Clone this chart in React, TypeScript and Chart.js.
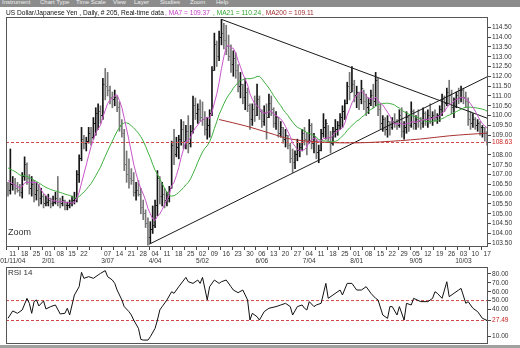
import React, { useEffect, useRef } from "react";
import { Chart, registerables } from "chart.js";

Chart.register(...registerables);

const FONT = '"Liberation Sans", Arial, sans-serif';

// Closes before the first visible bar (estimated from where MA7 / MA21 start)
const seedCloses = [107.9, 107.8, 107.6, 107.9, 108.0, 107.7, 107.5, 107.6, 107.4, 107.6,
  107.8, 107.5, 107.3, 107.6, 107.2, 107.0, 106.9, 106.6, 106.5, 106.5];

// Daily bars, Jan 8 2004 .. Oct 18 2004
const highs = [
  106.6, 108.3,
  106.9, 106.8, 106.6, 106.5, 107.1,
  107.9, 107.6, 107.0, 106.9, 106.7,
  106.6, 106.5, 106.3, 106.0, 105.9,
  106.0, 105.8, 105.9, 106.1, 106.9,
  105.8, 105.9, 105.7, 105.6, 105.7,
  105.9, 106.1, 107.2, 108.0, 109.4,
  109.0, 108.9, 109.4, 109.4, 109.9,
  110.4, 110.6, 110.5, 111.9, 112.4,
  112.2, 111.5, 111.2, 111.3, 111.0,
  110.7, 109.8, 109.3, 108.2, 107.8,
  107.3, 107.1, 106.6, 106.7, 106.3,
  105.7, 105.2, 104.8, 104.6, 105.4,
  105.7, 107.2, 106.9, 106.6, 106.3,
  106.1, 106.4, 108.7, 109.3, 108.9,
  109.0, 109.8, 109.7, 109.5, 110.0,
  109.5, 111.0, 110.9, 110.6, 110.8,
  110.7, 110.2, 109.9, 110.3, 112.5,
  114.2, 113.8, 114.3, 114.9, 114.7,
  114.6, 114.1, 113.6, 113.3, 113.2,
  112.6, 112.2, 111.6, 111.9, 111.4,
  110.6, 110.6, 111.0, 111.6, 111.0,
  110.3, 110.5, 110.6, 111.1, 111.0,
  110.4, 110.2, 109.9, 109.7, 109.4,
  109.3, 109.0, 108.6, 108.3, 108.2,
  108.8, 108.6, 109.3, 109.4, 109.1,
  109.8, 109.6, 109.1, 108.8, 108.5,
  109.3, 110.1, 109.8, 109.5, 109.2,
  109.4, 109.8, 109.7, 110.1, 110.5,
  110.8, 111.7, 112.2, 112.5, 111.8,
  111.5, 111.2, 111.8, 111.3, 111.1,
  110.9, 111.3, 111.6, 112.2, 111.9,
  110.6, 110.0, 109.9, 110.0, 109.7,
  109.9, 110.1, 109.8, 110.3, 110.4,
  109.7, 110.2, 110.0, 110.7, 110.3,
  110.0, 110.3, 109.9, 110.4, 110.2,
  110.3, 110.6, 110.2, 110.3, 110.1,
  110.5, 111.1, 111.0, 111.4, 111.8,
  111.3, 110.9, 111.2, 111.4, 111.5,
  111.4, 111.2, 110.9, 110.2, 110.1,
  109.9, 109.8, 109.7, 109.5, 109.4,
  109.2,
];
const lows = [
  105.9, 106.0,
  106.2, 106.0, 106.1, 105.9, 105.8,
  106.7, 106.5, 106.0, 105.9, 105.6,
  105.7, 105.4, 105.5, 105.3, 105.4,
  105.4, 105.3, 105.4, 105.5, 105.4,
  105.3, 105.4, 105.2, 105.2, 105.3,
  105.4, 105.5, 105.6, 106.6, 107.7,
  108.3, 108.2, 108.6, 108.5, 108.8,
  109.0, 109.3, 109.6, 109.8, 110.8,
  111.0, 110.6, 110.4, 110.5, 110.2,
  109.2, 108.9, 107.2, 106.6, 106.3,
  106.5, 105.9, 105.7, 105.9, 105.0,
  104.7, 104.3, 103.4, 103.5, 104.0,
  104.3, 104.9, 105.5, 105.4, 105.3,
  105.4, 105.6, 106.3, 107.5, 107.9,
  107.8, 108.5, 108.3, 108.3, 108.1,
  108.4, 109.1, 109.8, 109.6, 109.7,
  109.5, 109.0, 108.8, 108.9, 110.0,
  112.3, 112.5, 112.8, 113.6, 113.4,
  113.1, 112.8, 112.2, 112.0, 111.9,
  111.2, 110.9, 110.6, 110.3, 110.2,
  109.3, 109.5, 109.7, 110.0, 109.8,
  109.4, 109.5, 108.8, 109.9, 110.0,
  109.4, 109.3, 108.9, 108.9, 108.6,
  108.4, 108.3, 107.6, 107.1, 107.3,
  107.7, 107.9, 108.2, 108.5, 108.0,
  108.6, 108.3, 108.1, 107.8, 107.6,
  108.2, 108.9, 108.8, 108.7, 108.1,
  108.5, 108.9, 109.0, 109.3, 109.4,
  109.8, 110.6, 110.8, 111.2, 110.7,
  110.4, 110.3, 110.6, 110.3, 110.0,
  110.1, 110.5, 110.4, 110.5, 110.0,
  109.3, 109.2, 109.0, 108.9, 109.0,
  109.3, 109.4, 109.3, 109.4, 108.9,
  108.8, 109.1, 109.2, 109.4, 109.3,
  109.3, 109.4, 109.3, 109.4, 109.5,
  109.4, 109.6, 109.5, 109.7, 109.6,
  109.7, 110.0, 110.2, 110.5, 110.6,
  110.1, 109.9, 110.4, 110.6, 110.7,
  110.6, 110.4, 109.5, 109.3, 109.4,
  109.3, 109.2, 109.0, 108.9, 108.7,
  108.5,
];
const closes = [
  106.2, 106.5,
  106.5, 106.3, 106.2, 106.1, 106.9,
  107.5, 106.8, 106.3, 106.5, 106.0,
  106.2, 105.8, 105.9, 105.5, 105.6,
  105.7, 105.5, 105.6, 105.8, 105.6,
  105.5, 105.7, 105.4, 105.4, 105.5,
  105.7, 105.8, 107.0, 107.8, 108.8,
  108.6, 108.7, 109.1, 108.9, 109.6,
  110.1, 110.2, 110.0, 111.6, 111.5,
  111.3, 110.9, 110.8, 110.9, 110.4,
  109.5, 109.1, 107.5, 107.0, 106.8,
  106.7, 106.1, 106.2, 106.0, 105.3,
  105.0, 104.5, 103.8, 104.2, 104.4,
  105.4, 106.8, 105.9, 106.0, 105.7,
  105.8, 106.3, 108.5, 108.0, 108.4,
  108.8, 109.3, 108.7, 109.2, 108.6,
  109.2, 110.5, 110.1, 110.3, 109.9,
  109.8, 109.3, 109.5, 110.1, 112.3,
  113.6, 113.0, 114.0, 114.2, 113.8,
  113.5, 113.0, 112.6, 112.9, 112.3,
  111.5, 111.6, 110.9, 111.2, 110.5,
  109.8, 110.3, 110.0, 110.8, 110.2,
  109.7, 110.1, 109.9, 110.6, 110.3,
  109.6, 109.9, 109.1, 109.4, 108.8,
  109.0, 108.5, 107.8, 107.6, 108.0,
  108.2, 108.4, 109.1, 108.8, 108.7,
  109.5, 108.6, 108.9, 108.1, 108.2,
  109.1, 109.4, 109.6, 108.9, 108.6,
  109.2, 109.3, 109.5, 109.9, 110.2,
  110.6, 111.5, 111.2, 111.6, 111.0,
  111.2, 110.8, 111.4, 110.7, 110.4,
  110.6, 111.0, 110.7, 111.8, 110.3,
  109.6, 109.8, 109.3, 109.7, 109.4,
  109.7, 109.6, 109.5, 110.0, 109.2,
  109.4, 109.9, 109.5, 110.2, 109.6,
  109.8, 109.7, 109.6, 110.1, 109.8,
  110.0, 109.9, 110.0, 109.9, 110.0,
  110.3, 110.8, 110.6, 111.2, 111.0,
  110.4, 110.8, 111.0, 110.9, 111.3,
  110.9, 110.7, 109.8, 109.6, 109.8,
  109.5, 109.6, 109.4, 109.4, 109.1,
  108.63,
];

const lastPrice = 108.63;

// Weekly axis labels (Sunday dates); the week tick sits on the Monday bar
const dayLabels = ["11", "18", "25", "01", "08", "15", "22", "", "07", "14", "21", "28", "04", "11", "18", "25",
  "02", "09", "16", "23", "30", "06", "13", "20", "27", "04", "11", "18", "25", "01", "08", "15", "22", "29",
  "05", "12", "19", "26", "03", "10", "17"];
const monthLabels = ["01/11/04", "", "", "2/01", "", "", "", "", "3/07", "", "", "", "4/04", "", "", "", "5/02",
  "", "", "", "", "6/06", "", "", "", "7/04", "", "", "", "8/01", "", "", "", "", "9/05", "", "", "", "10/03", "", ""];
const firstMondayBar = 2;
const barsPerWeek = 5;

const priceTicks = [114.5, 114, 113.5, 113, 112.5, 112, 111.5, 111, 110.5, 110, 109.5, 109, 108.63,
  108, 107.5, 107, 106.5, 106, 105.5, 105, 104.5, 104, 103.5];

// MA200 (history not in the visible window)
const ma200Bars = [89, 100, 110, 119, 131, 144, 157, 174, 186, 202];
const ma200Values = [109.8, 109.48, 109.12, 108.81, 108.66, 108.61, 108.66, 108.81, 108.97, 109.11];

// Hand-drawn trendlines [bar, price]
const upperTrend = [[90, 114.9], [202.4, 109.85]];
const lowerTrend = [[59.5, 103.45], [202.4, 112.0]];

// RSI 14
const rsiBars = [0, 2, 4, 6, 8, 9, 10, 11, 12, 13, 15, 16, 18, 20, 22, 24, 25, 26, 28, 30, 31, 32, 34, 36, 38, 39,
  41, 42, 44, 45, 46, 48, 49, 51, 52, 53, 55, 56, 57, 59, 60, 62, 63, 64, 65, 67, 69, 70, 72, 75, 76, 78, 80, 81,
  82, 84, 85, 87, 89, 90, 92, 94, 95, 97, 99, 101, 102, 103, 105, 106, 108, 110, 113, 115, 117, 119, 120, 122,
  124, 125, 126, 127, 129, 130, 132, 134, 135, 137, 140, 141, 143, 145, 147, 149, 151, 153, 155, 156, 158, 160,
  161, 162, 164, 165, 167, 168, 170, 171, 174, 177, 179, 180, 181, 183, 185, 186, 188, 190, 191, 193, 194, 196,
  198, 200, 202];
const rsiValues = [30, 38.3, 35.6, 39.4, 52.5, 46.9, 35.6, 48.8, 50.7, 43.9, 49.6, 40.5, 43.2, 45.0, 34.9, 35.6,
  41.3, 33.7, 56.3, 65.7, 81.9, 75.1, 77.0, 75.1, 78.9, 80.7, 83.8, 77.0, 73.2, 69.4, 61.9, 50.7, 43.2, 37.5,
  33.7, 28.0, 18.6, 6.2, 5.4, 5.4, 9.2, 18.6, 28.0, 39.4, 43.2, 50.7, 60.0, 58.2, 65.7, 76.2, 71.3, 69.4, 73.2,
  69.4, 76.2, 50.7, 65.7, 73.2, 69.4, 71.3, 73.2, 65.7, 61.9, 58.9, 61.9, 50.7, 28.0, 35.6, 31.8, 28.0, 37.5,
  41.3, 43.2, 45.0, 46.9, 43.2, 33.7, 43.2, 45.0, 41.3, 39.4, 48.8, 43.2, 45.0, 46.9, 69.4, 52.5, 56.3, 61.9,
  56.3, 69.4, 69.4, 61.9, 61.9, 65.7, 58.2, 52.5, 50.7, 33.7, 29.9, 43.2, 43.2, 33.7, 43.2, 28.0, 46.9, 45.0,
  52.5, 48.8, 48.8, 52.5, 60.0, 58.2, 52.5, 71.3, 54.4, 58.2, 61.9, 63.8, 46.9, 48.8, 41.3, 37.5, 30.0, 27.49];
const rsiTicks = [80, 70, 60, 50, 40, 27.49, 10];
const rsiLevels = [50, 27.49];
const rsiLast = 27.49;

const X_MIN = -0.84;
const X_MAX = 202.36;

const framePlugin = {
  id: "frame",
  afterDraw(chart: any) {
    const { ctx, chartArea: a } = chart;
    ctx.save();
    ctx.strokeStyle = "#555";
    ctx.lineWidth = 1;
    ctx.strokeRect(Math.round(a.left) + 0.5, Math.round(a.top) + 0.5,
      Math.round(a.right - a.left) - 1, Math.round(a.bottom - a.top) - 1);
    ctx.restore();
  },
};

function tickImage(color: string, side: "left" | "right") {
  const c = document.createElement("canvas");
  c.width = 3;
  c.height = 1;
  const g = c.getContext("2d")!;
  g.fillStyle = color;
  g.fillRect(side === "left" ? 0 : 2, 0, 1, 1);
  return c;
}

export default function App() {
  const mainRef = useRef<HTMLCanvasElement | null>(null);
  const rsiRef = useRef<HTMLCanvasElement | null>(null);

  useEffect(() => {
    const mc = mainRef.current;
    const rc = rsiRef.current;
    if (!mc || !rc) return;

    const opens = closes.map((_, j) => (j === 0 ? seedCloses[seedCloses.length - 1] : closes[j - 1]));
    const up = closes.map((c, j) => c >= opens[j]);
    const all = seedCloses.concat(closes);
    const sma = (len: number) =>
      closes.map((_, j) => {
        const end = seedCloses.length + j;
        let s = 0;
        for (let k = end - len + 1; k <= end; k++) s += all[k];
        return { x: j, y: s / len };
      });

    const UP = "#151515";
    const DOWN = "#767676";
    const openUp = tickImage(UP, "left");
    const openDown = tickImage(DOWN, "left");
    const closeUp = tickImage(UP, "right");
    const closeDown = tickImage(DOWN, "right");

    const weekTicks = dayLabels.map((_, k) => ({ value: firstMondayBar + barsPerWeek * k }));
    const tickFont = { size: 6.6, family: FONT, lineHeight: 1.05 };

    const line = (data: any[], color: string, extra: any = {}) => ({
      type: "line",
      data,
      borderColor: color,
      borderWidth: 1,
      pointRadius: 0,
      tension: 0,
      order: 1,
      ...extra,
    });

    const main = new Chart(mc, {
      type: "bar",
      data: {
        datasets: [
          line(sma(7), "#c855c8"),
          line(sma(21), "#3fae3f"),
          line(ma200Bars.map((b, i) => ({ x: b, y: ma200Values[i] })), "#a83232", { tension: 0.35 }),
          line(upperTrend.map(([x, y]) => ({ x, y })), "#1a1a1a"),
          line(lowerTrend.map(([x, y]) => ({ x, y })), "#1a1a1a"),
          line([{ x: X_MIN, y: lastPrice }, { x: X_MAX, y: lastPrice }], "#d04848", { borderDash: [3, 2], order: 2 }),
          {
            type: "bar",
            data: highs.map((h, j) => ({ x: j, y: [lows[j], h] })),
            backgroundColor: (ctx: any) => (up[ctx.dataIndex] ? UP : DOWN),
            borderWidth: 0,
            barThickness: 1,
            order: 3,
          },
          {
            type: "scatter",
            data: opens.map((o, j) => ({ x: j, y: o })),
            pointStyle: (ctx: any) => (up[ctx.dataIndex] ? openUp : openDown),
            order: 3,
          },
          {
            type: "scatter",
            data: closes.map((c, j) => ({ x: j, y: c })),
            pointStyle: (ctx: any) => (up[ctx.dataIndex] ? closeUp : closeDown),
            order: 3,
          },
        ] as any,
      },
      options: {
        animation: false,
        responsive: false,
        devicePixelRatio: 1,
        layout: { padding: { left: 6, top: 8, right: 0, bottom: 0 } },
        plugins: { legend: { display: false }, tooltip: { enabled: false } },
        events: [],
        scales: {
          x: {
            type: "linear",
            min: X_MIN,
            max: X_MAX,
            offset: false,
            afterBuildTicks: (s: any) => { s.ticks = weekTicks.map((t) => ({ ...t })); },
            afterFit: (s: any) => { s.height = 19; s.paddingLeft = 0; s.paddingRight = 0; },
            ticks: {
              autoSkip: false,
              maxRotation: 0,
              minRotation: 0,
              padding: 1,
              color: "#333",
              font: tickFont,
              callback: (_v: any, i: number) => [dayLabels[i], monthLabels[i]],
            },
            grid: { drawOnChartArea: false, tickLength: 3, color: "#444" },
            border: { display: false },
          },
          y: {
            position: "right",
            min: 103.31,
            max: 115.02,
            afterBuildTicks: (s: any) => { s.ticks = priceTicks.map((v) => ({ value: v })); },
            afterFit: (s: any) => { s.width = 32; s.paddingTop = 0; s.paddingBottom = 0; },
            ticks: {
              autoSkip: false,
              padding: 1,
              font: tickFont,
              color: (ctx: any) => (ctx.tick && ctx.tick.value === lastPrice ? "#cc2222" : "#333"),
              callback: (v: any) => Number(v).toFixed(2),
            },
            grid: { drawOnChartArea: false, tickLength: 3, color: "#444" },
            border: { display: false },
          },
        },
      } as any,
      plugins: [framePlugin],
    });

    const rsi = new Chart(rc, {
      type: "line",
      data: {
        datasets: [
          line(rsiBars.map((b, i) => ({ x: b, y: rsiValues[i] })), "#111"),
          ...rsiLevels.map((lv) =>
            line([{ x: X_MIN, y: lv }, { x: X_MAX, y: lv }], "#d04848", { borderDash: [3, 2], order: 2 })),
        ] as any,
      },
      options: {
        animation: false,
        responsive: false,
        devicePixelRatio: 1,
        layout: { padding: { left: 6, top: 1, right: 0, bottom: 4 } },
        plugins: { legend: { display: false }, tooltip: { enabled: false } },
        events: [],
        scales: {
          x: { type: "linear", min: X_MIN, max: X_MAX, display: false },
          y: {
            position: "right",
            min: 0.97,
            max: 87.9,
            afterBuildTicks: (s: any) => { s.ticks = rsiTicks.map((v) => ({ value: v })); },
            afterFit: (s: any) => { s.width = 32; s.paddingTop = 0; s.paddingBottom = 0; },
            ticks: {
              autoSkip: false,
              padding: 1,
              font: tickFont,
              color: (ctx: any) => (ctx.tick && ctx.tick.value === rsiLast ? "#cc2222" : "#333"),
              callback: (v: any) => Number(v).toFixed(2),
            },
            grid: { drawOnChartArea: false, tickLength: 3, color: "#444" },
            border: { display: false },
          },
        },
      } as any,
      plugins: [framePlugin],
    });

    return () => {
      main.destroy();
      rsi.destroy();
    };
  }, []);

  const menu = [["Instrument", 2], ["Chart Type", 40], ["Time Scale", 76], ["View", 113], ["Layer", 134],
    ["Studies", 160], ["Zoom", 190], ["Help", 216]] as [string, number][];

  return (
    <div style={{ position: "fixed", left: 0, top: 0, width: 520, height: 348, background: "#fff",
      overflow: "hidden", fontFamily: FONT }}>
      <div style={{ position: "absolute", left: 0, top: 0, width: 520, height: 7, background: "#8c8c8c",
        overflow: "hidden" }}>
        {menu.map(([t, x]) => (
          <span key={t} style={{ position: "absolute", left: x, top: -2, fontSize: 6, lineHeight: "9px",
            color: "#eeeeee", whiteSpace: "nowrap" }}>{t}</span>
        ))}
      </div>
      <canvas ref={mainRef} width={520} height={257}
        style={{ position: "absolute", left: 0, top: 9, width: 520, height: 257 }} />
      <canvas ref={rsiRef} width={520} height={82}
        style={{ position: "absolute", left: 0, top: 266, width: 520, height: 82 }} />
      <div style={{ position: "absolute", left: 0, top: 8, width: 520, height: 9, fontSize: 6.6,
        lineHeight: "9px", whiteSpace: "nowrap" }}>
        <span style={{ position: "absolute", left: 6, color: "#111" }}>US Dollar/Japanese Yen , Daily, # 205, Real-time data</span>
        <span style={{ position: "absolute", left: 165, color: "#c040c0" }}>, MA7 = 109.37</span>
        <span style={{ position: "absolute", left: 213, color: "#2ea52e" }}>, MA21 = 110.24</span>
        <span style={{ position: "absolute", left: 262, color: "#a03030" }}>, MA200 = 109.11</span>
      </div>
      <div style={{ position: "absolute", left: 8, top: 227, fontSize: 9, color: "#333" }}>Zoom</div>
      <div style={{ position: "absolute", left: 8, top: 268, fontSize: 8, color: "#333" }}>RSI 14</div>
      <div style={{ position: "absolute", left: 0, top: 345, width: 520, height: 3, background: "#a0a0a0" }} />
    </div>
  );
}
